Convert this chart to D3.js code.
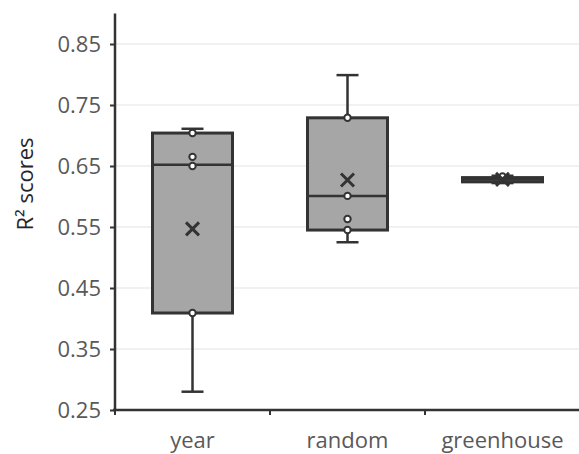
<!DOCTYPE html>
<html><head><meta charset="utf-8">
<script src="https://cdn.jsdelivr.net/npm/d3@7"></script>
<style>body{margin:0;background:#fff}svg{display:block}</style>
</head><body>
<svg id="c" width="579" height="454"></svg>
<script>
const categories = ["year", "random", "greenhouse"];
const whiskerLow  = [0.280, 0.525, 0.622];
const q1          = [0.409, 0.545, 0.624];
const median      = [0.652, 0.601, 0.628];
const q3          = [0.704, 0.729, 0.631];
const whiskerHigh = [0.711, 0.799, 0.634];
const means       = [0.547, 0.627, 0.628];
const innerPoints = [[0.409, 0.650, 0.665, 0.704], [0.545, 0.563, 0.601, 0.729], [0.630, 0.633]];
const yTicks = [0.25, 0.35, 0.45, 0.55, 0.65, 0.75, 0.85];
const yTitle = "R² scores";

const svg = d3.select("#c");
const x = d3.scaleBand().domain(categories).range([115, 580]).paddingInner(0).paddingOuter(0);
const y = d3.scaleLinear().domain([0.25, 0.9]).range([410, 13.5]);
const dark = "#333";
const font = "'Open Sans', 'Noto Sans', sans-serif";

// gridlines
svg.append("g").selectAll("line").data(yTicks.slice(1)).join("line")
  .attr("x1", 115).attr("x2", 579)
  .attr("y1", d => y(d)).attr("y2", d => y(d))
  .attr("stroke", "#ececec").attr("stroke-width", 1.5);

const data = categories.map((c, i) => ({c, lo: whiskerLow[i], q1: q1[i], med: median[i], q3: q3[i], hi: whiskerHigh[i], mean: means[i], pts: innerPoints[i]}));
const bw = 80, cap = 22;
const g = svg.append("g").selectAll("g").data(data).join("g")
  .attr("transform", d => `translate(${x(d.c) + x.bandwidth() / 2},0)`);
// whiskers
g.append("line").attr("x1", 0).attr("x2", 0).attr("y1", d => y(d.hi)).attr("y2", d => y(d.q3)).attr("stroke", dark).attr("stroke-width", 2.5);
g.append("line").attr("x1", 0).attr("x2", 0).attr("y1", d => y(d.q1)).attr("y2", d => y(d.lo)).attr("stroke", dark).attr("stroke-width", 2.5);
g.append("line").attr("x1", -cap / 2).attr("x2", cap / 2).attr("y1", d => y(d.hi)).attr("y2", d => y(d.hi)).attr("stroke", dark).attr("stroke-width", 2.5);
g.append("line").attr("x1", -cap / 2).attr("x2", cap / 2).attr("y1", d => y(d.lo)).attr("y2", d => y(d.lo)).attr("stroke", dark).attr("stroke-width", 2.5);
// box
g.append("rect").attr("x", -bw / 2).attr("width", bw)
  .attr("y", d => y(d.q3)).attr("height", d => y(d.q1) - y(d.q3))
  .attr("fill", "#a6a6a6").attr("stroke", dark).attr("stroke-width", 3);
g.append("line").attr("x1", -bw / 2).attr("x2", bw / 2).attr("y1", d => y(d.med)).attr("y2", d => y(d.med)).attr("stroke", dark).attr("stroke-width", 2.5);
// inner points
g.selectAll("circle").data(d => d.pts).join("circle")
  .attr("cx", 0).attr("cy", d => y(d)).attr("r", 3.2)
  .attr("fill", "#fff").attr("stroke", dark).attr("stroke-width", 2);
// mean marker
g.append("path").attr("d", d => { const m = y(d.mean), s = 6.5; return `M${-s},${m - s}L${s},${m + s}M${-s},${m + s}L${s},${m - s}`; })
  .attr("stroke", dark).attr("stroke-width", 3).attr("fill", "none");

// y axis
const ya = svg.append("g").attr("transform", "translate(115,0)")
  .call(d3.axisLeft(y).tickValues(yTicks).tickFormat(d3.format(".2f")).tickSize(5).tickPadding(9));
ya.select(".domain").attr("stroke", dark).attr("stroke-width", 2.5).attr("d", `M0,${y(0.9)}V${y(0.25)}`);
ya.selectAll(".tick line").attr("stroke", dark).attr("stroke-width", 2);
ya.selectAll("text").attr("font-family", font).attr("font-size", 22).attr("fill", "#595959");

// x axis
const xa = svg.append("g").attr("transform", `translate(0,${y(0.25)})`);
xa.append("line").attr("x1", 113).attr("x2", 580).attr("y1", 0).attr("y2", 0).attr("stroke", dark).attr("stroke-width", 2.5);
const bounds = categories.map(c => x(c)).concat([x.range()[1]]);
xa.selectAll(".tk").data(bounds).join("line").attr("class", "tk")
  .attr("x1", d => d).attr("x2", d => d).attr("y1", 0).attr("y2", 5)
  .attr("stroke", dark).attr("stroke-width", 2);
xa.selectAll("text").data(categories).join("text")
  .attr("x", d => x(d) + x.bandwidth() / 2).attr("y", 38)
  .attr("text-anchor", "middle").attr("font-family", font).attr("font-size", 22).attr("fill", "#595959")
  .text(d => d);

// y title
svg.append("text").attr("transform", `translate(33,${184}) rotate(-90)`)
  .attr("text-anchor", "middle").attr("font-family", font).attr("font-size", 22).attr("fill", "#262626")
  .text(yTitle);
</script>
</body></html>
